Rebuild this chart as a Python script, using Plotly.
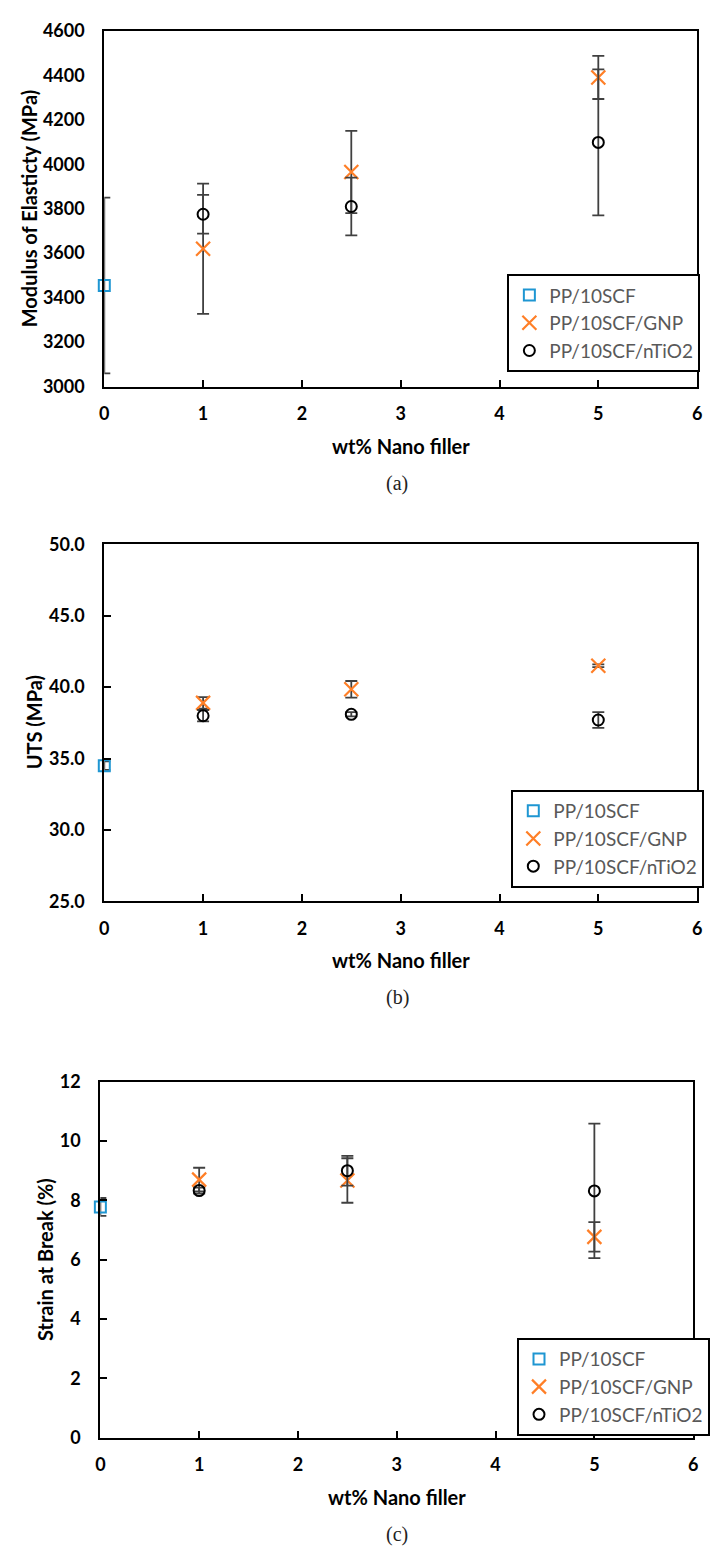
import plotly.graph_objects as go

# ---------------- data ----------------
x_ref = [0]
x_filler = [1, 2.5, 5]
series_names = ["PP/10SCF", "PP/10SCF/GNP", "PP/10SCF/nTiO2"]

# (a) Modulus of elasticity (MPa)
mod_scf, mod_scf_err = [3455], [395]
mod_gnp = [3620, 3965, 4390]
mod_gnp_err = [293, 185, 97]
mod_tio2 = [3775, 3810, 4098]
mod_tio2_err = [87, 130, 328]

# (b) UTS (MPa)
uts_scf, uts_scf_err = [34.5], [0.3]
uts_gnp = [38.9, 39.85, 41.5]
uts_gnp_err = [0.4, 0.58, 0.1]
uts_tio2 = [38.0, 38.1, 37.7]
uts_tio2_err = [0.4, 0.15, 0.55]

# (c) Strain at break (%)
str_scf, str_scf_err = [7.78], [0.3]
str_gnp = [8.7, 8.67, 6.77]
str_gnp_err = [0.4, 0.75, 0.5]
str_tio2 = [8.33, 9.0, 8.32]
str_tio2_err = [0.1, 0.5, 2.27]

x_ticks = [0, 1, 2, 3, 4, 5, 6]
y_titles = ["Modulus of Elasticty (MPa)", "UTS (MPa)", "Strain at Break (%)"]
x_title = "wt% Nano filler"
captions = ["(a)", "(b)", "(c)"]

# ---------------- style ----------------
W, H = 710, 1564
BLUE = "#1E96D2"
ORANGE = "#FF7F27"
BLACK = "#000000"
ERR = "#404040"
FONT = "Lato"

# plot areas in pixels: (left, right, top, bottom)
areas = [(101, 704, 19, 380), (101, 704, 540, 902), (97, 700, 1085, 1446)]
legend_pos = [(511, 266), (515, 789), (521, 1345)]
y_ranges = [[3000, 4600], [25, 50], [0, 12]]
y_dticks = [200, 5, 2]
y_formats = ["d", ".1f", "d"]
y_ticks_mode = ["", "inside", "inside"]
y_title_x = [24, 29, 40]

panels = [
    (mod_scf, mod_scf_err, mod_gnp, mod_gnp_err, mod_tio2, mod_tio2_err),
    (uts_scf, uts_scf_err, uts_gnp, uts_gnp_err, uts_tio2, uts_tio2_err),
    (str_scf, str_scf_err, str_gnp, str_gnp_err, str_tio2, str_tio2_err),
]

fig = go.Figure()


def err(arr):
    return dict(type="data", array=arr, visible=True, color=ERR, thickness=1.8, width=6)


annotations = []
layout_axes = {}
for i, (scf, scf_e, gnp, gnp_e, tio, tio_e) in enumerate(panels):
    n = "" if i == 0 else str(i + 1)
    xa, ya = "x" + n, "y" + n
    leg = "legend" + n
    # error bar of the reference point (clipped to plot area)
    fig.add_trace(go.Scatter(x=x_ref, y=scf, mode="markers", xaxis=xa, yaxis=ya,
                             marker=dict(size=1, color="rgba(0,0,0,0)"),
                             error_y=err(scf_e), showlegend=False, cliponaxis=True,
                             hoverinfo="skip"))
    fig.add_trace(go.Scatter(x=x_ref, y=scf, mode="markers", name=series_names[0],
                             xaxis=xa, yaxis=ya, legend=leg, cliponaxis=False,
                             marker=dict(symbol="square-open", size=11, color=BLUE,
                                         line=dict(width=2, color=BLUE))))
    fig.add_trace(go.Scatter(x=x_filler, y=gnp, mode="markers", name=series_names[1],
                             xaxis=xa, yaxis=ya, legend=leg, cliponaxis=False,
                             error_y=err(gnp_e),
                             marker=dict(symbol="x-thin-open", size=14, color=ORANGE,
                                         line=dict(width=2.2, color=ORANGE))))
    fig.add_trace(go.Scatter(x=x_filler, y=tio, mode="markers", name=series_names[2],
                             xaxis=xa, yaxis=ya, legend=leg, cliponaxis=False,
                             error_y=err(tio_e),
                             marker=dict(symbol="circle-open", size=11, color=BLACK,
                                         line=dict(width=2, color=BLACK))))

    l, r, t, b = areas[i]
    xdom = [l / W, r / W]
    ydom = [1 - b / H, 1 - t / H]
    tickfont = dict(family=FONT, size=18, color="black", weight="bold")
    layout_axes["xaxis" + n] = dict(
        domain=xdom, anchor=ya, range=[0, 6], tickvals=x_ticks, ticks="inside",
        ticklen=7, tickwidth=2, tickcolor="black", showline=True, linecolor="black",
        linewidth=2, mirror=True, showgrid=False, zeroline=False, tickfont=tickfont,
        ticklabelstandoff=10, fixedrange=True)
    layout_axes["yaxis" + n] = dict(
        domain=ydom, anchor=xa, range=y_ranges[i], dtick=y_dticks[i],
        tickformat=y_formats[i], ticks=y_ticks_mode[i], ticklen=7, tickwidth=2,
        tickcolor="black", showline=True, linecolor="black", linewidth=2, mirror=True,
        showgrid=False, zeroline=False, tickfont=tickfont, ticklabelstandoff=14,
        fixedrange=True)
    lx, ly = legend_pos[i]
    layout_axes[leg] = dict(
        x=lx / W, y=1 - ly / H, xanchor="left", yanchor="top", xref="paper", yref="paper",
        bgcolor="white", bordercolor="black", borderwidth=2,
        font=dict(family=FONT, size=19, color="#595959"), itemwidth=30,
        tracegroupgap=0)

    # y-axis title
    annotations.append(dict(text=y_titles[i], x=y_title_x[i] / W, y=1 - (t + b) / 2 / H,
                            xref="paper", yref="paper", showarrow=False, textangle=-90,
                            xanchor="center", yanchor="middle",
                            font=dict(family=FONT, size=20, color="black", weight="bold")))
    # x-axis title
    annotations.append(dict(text=x_title, x=(l + r) / 2 / W, y=1 - (b + 60) / H,
                            xref="paper", yref="paper", showarrow=False,
                            xanchor="center", yanchor="middle",
                            font=dict(family=FONT, size=20, color="black", weight="bold")))
    # caption
    annotations.append(dict(text=captions[i], x=399 / W, y=1 - (b + 98) / H,
                            xref="paper", yref="paper", showarrow=False,
                            xanchor="center", yanchor="middle",
                            font=dict(family="Liberation Serif", size=20, color="#222222")))

fig.update_layout(
    width=W, height=H, margin=dict(l=0, r=0, t=0, b=0),
    paper_bgcolor="white", plot_bgcolor="white",
    annotations=annotations, **layout_axes)

fig.write_html("out.html", config={"displayModeBar": False},
               post_script="document.body.style.margin='0px';"
                           "document.body.style.overflow='hidden';")
